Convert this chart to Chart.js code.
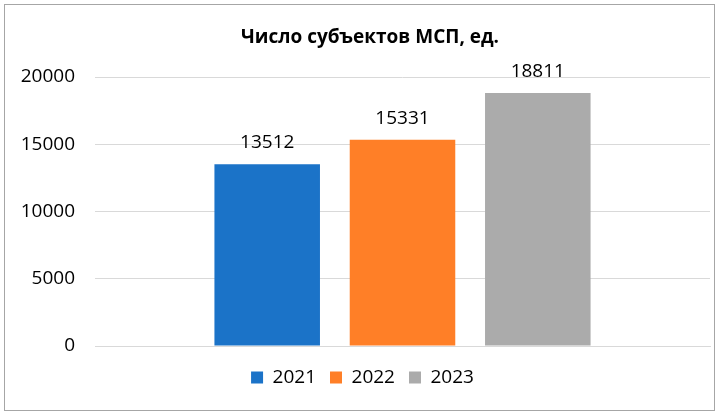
<!DOCTYPE html>
<html>
<head>
<meta charset="utf-8">
<script src="https://cdn.jsdelivr.net/npm/chart.js@4/dist/chart.umd.min.js"></script>
<style>
  html, body { margin: 0; padding: 0; background: #fff; }
  #wrap { width: 720px; height: 417px; position: relative; }
</style>
</head>
<body>
<div id="wrap"><canvas id="chart"></canvas></div>
<script>
// данные диаграммы
const categories = ['Число субъектов МСП'];
const years = ['2021', '2022', '2023'];
const values2021 = [13512];
const values2022 = [15331];
const values2023 = [18811];
const yTicks = [0, 5000, 10000, 15000, 20000];
const colors = ['#1B73C8', '#FF7F27', '#ABABAB'];
const titleText = 'Число субъектов МСП, ед.';

const font = '"Open Sans", "Noto Sans", sans-serif';

// рамка и заголовок диаграммы
const framePlugin = {
    id: 'frame',
    afterDraw(chart) {
        const ctx = chart.ctx;
        ctx.save();
        ctx.strokeStyle = '#A6A6A6';
        ctx.lineWidth = 1;
        ctx.strokeRect(4.5, 4.5, 710, 406);
        ctx.font = 'bold 19px ' + font;
        ctx.fillStyle = '#000';
        ctx.textAlign = 'center';
        ctx.textBaseline = 'middle';
        ctx.fillText(titleText, 370, 38);
        ctx.restore();
    }
};

// подписи значений над столбцами
const valueLabels = {
    id: 'valueLabels',
    afterDatasetsDraw(chart) {
        const ctx = chart.ctx;
        ctx.save();
        ctx.font = '19px ' + font;
        ctx.fillStyle = '#000';
        ctx.textAlign = 'center';
        ctx.textBaseline = 'bottom';
        chart.data.datasets.forEach((ds, i) => {
            chart.getDatasetMeta(i).data.forEach((bar, j) => {
                ctx.fillText(ds.data[j], bar.x, bar.y - 12);
            });
        });
        ctx.restore();
    }
};

const seriesValues = [values2021, values2022, values2023];

new Chart(document.getElementById('chart'), {
    type: 'bar',
    data: {
        labels: categories,
        datasets: years.map((y, i) => ({
            label: y,
            data: seriesValues[i],
            backgroundColor: colors[i],
            categoryPercentage: 0.66,
            barPercentage: 0.78
        }))
    },
    options: {
        responsive: true,
        maintainAspectRatio: false,
        animation: false,
        layout: { padding: { left: 15, right: 10, top: 77, bottom: 20 } },
        plugins: {
            title: { display: false },
            legend: {
                position: 'bottom',
                labels: {
                    color: '#000',
                    font: { family: font, size: 19 },
                    boxWidth: 12,
                    boxHeight: 12,
                    padding: 14
                }
            },
            tooltip: { enabled: false }
        },
        scales: {
            x: {
                ticks: { display: false },
                grid: { display: false },
                border: { display: true, color: '#D9D9D9' }
            },
            y: {
                min: 0,
                max: 20000,
                afterBuildTicks(scale) {
                    scale.ticks = yTicks.map(v => ({ value: v }));
                },
                afterFit(scale) { scale.width = 80; },
                ticks: {
                    color: '#000',
                    font: { family: font, size: 19 },
                    padding: 20,
                    callback: v => String(v)
                },
                grid: { color: '#D9D9D9', drawTicks: false },
                border: { display: false }
            }
        }
    },
    plugins: [framePlugin, valueLabels]
});
</script>
</body>
</html>
